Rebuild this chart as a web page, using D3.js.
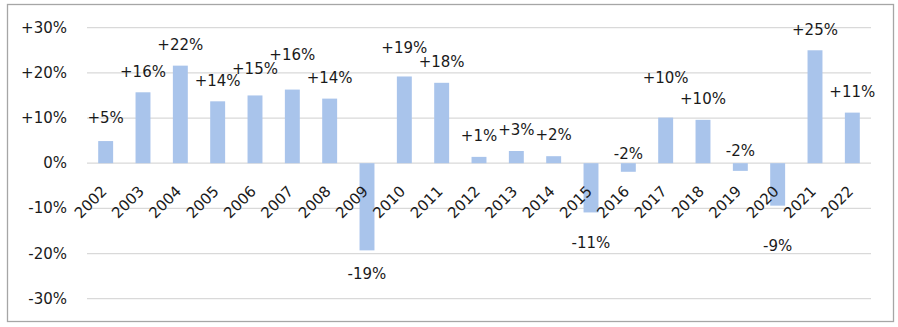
<!DOCTYPE html>
<html>
<head>
<meta charset="utf-8">
<script src="https://cdn.jsdelivr.net/npm/d3@7"></script>
<style>
  body { margin: 0; background: #fff; }
  svg text { font-family: "DejaVu Sans", sans-serif; font-size: 15px; fill: #1a1a1a; }
</style>
</head>
<body>
<div id="chart"></div>
<script>
const years = ["2002", "2003", "2004", "2005", "2006", "2007", "2008", "2009", "2010", "2011", "2012",
  "2013", "2014", "2015", "2016", "2017", "2018", "2019", "2020", "2021", "2022"];
const growth = [0.049, 0.157, 0.216, 0.137, 0.150, 0.163, 0.143, -0.193, 0.192, 0.178, 0.014,
  0.027, 0.0155, -0.109, -0.019, 0.101, 0.096, -0.017, -0.094, 0.25, 0.112];
const yTicks = [-0.3, -0.2, -0.1, 0, 0.1, 0.2, 0.3];

// hand placed labels in the original, extra px from the default spot
const labelNudge = { "2002": -2, "2006": -5.6, "2007": -13.6, "2009": 3.3, "2010": -8, "2015": 10,
  "2016": -38.4, "2017": -19.3, "2019": -40.7, "2020": 20 };

const width = 898, height = 327;
const data = years.map((year, i) => ({ year, value: growth[i] }));

const svg = d3.select("#chart").append("svg").attr("width", width).attr("height", height);

svg.append("rect")
  .attr("x", 7.5).attr("y", 4.5).attr("width", 886).attr("height", 317)
  .attr("fill", "#fff").attr("stroke", "#a6a6a6").attr("stroke-width", 1.3);

const x = d3.scaleBand().domain(years).range([87, 871]).paddingInner(0.6).paddingOuter(0.3);
const y = d3.scaleLinear().domain([-0.3, 0.3]).range([298.7, 27.7]);

const pct = (v) => {
  const n = Math.round(v * 100);
  return n > 0 ? `+${n}%` : `${n}%`;
};

// grid + y labels
svg.append("g")
  .selectAll("line")
  .data(yTicks)
  .join("line")
  .attr("x1", 87).attr("x2", 871)
  .attr("y1", (d) => y(d)).attr("y2", (d) => y(d))
  .attr("stroke", "#d9d9d9").attr("stroke-width", 1.2);

svg.append("g")
  .selectAll("text")
  .data(yTicks)
  .join("text")
  .attr("x", 67).attr("y", (d) => y(d))
  .attr("text-anchor", "end").attr("dominant-baseline", "central")
  .text((d) => (d === 0 ? "0%" : pct(d)));

// bars
svg.append("g")
  .selectAll("rect")
  .data(data)
  .join("rect")
  .attr("x", (d) => x(d.year))
  .attr("width", x.bandwidth())
  .attr("y", (d) => y(Math.max(0, d.value)))
  .attr("height", (d) => Math.abs(y(d.value) - y(0)))
  .attr("fill", "#a9c4eb");

// category labels, rotated
svg.append("g")
  .selectAll("text")
  .data(years)
  .join("text")
  .attr("text-anchor", "end")
  .attr("transform", (d) => `translate(${x(d) + x.bandwidth() / 2 + 2},${y(0) + 29}) rotate(-45)`)
  .text((d) => d);

// value labels
svg.append("g")
  .selectAll("text")
  .data(data)
  .join("text")
  .attr("x", (d) => x(d.year) + x.bandwidth() / 2)
  .attr("y", (d) => y(d.value) + (d.value >= 0 ? -20.7 : 20.7) + (labelNudge[d.year] || 0))
  .attr("text-anchor", "middle").attr("dominant-baseline", "central")
  .text((d) => pct(d.value));
</script>
</body>
</html>
